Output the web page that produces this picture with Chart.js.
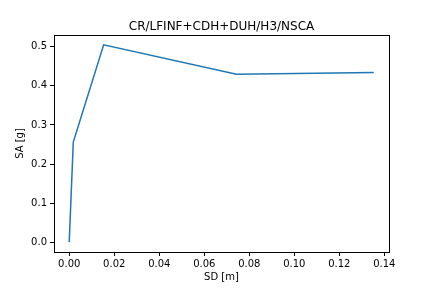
<!DOCTYPE html>
<html>
<head>
<meta charset="utf-8">
<script src="https://cdn.jsdelivr.net/npm/chart.js@4/dist/chart.umd.min.js"></script>
<style>
  html, body { margin: 0; padding: 0; background: #fff; }
  #grafico { display: block; }
</style>
</head>
<body>
<canvas id="grafico" width="432" height="288"></canvas>
<script>
const sd = [0, 0.0018, 0.0153, 0.0743, 0.1353];
const sa = [0, 0.256, 0.505, 0.430, 0.434];
const xTicks = [0, 0.02, 0.04, 0.06, 0.08, 0.1, 0.12, 0.14];
const yTicks = [0, 0.1, 0.2, 0.3, 0.4, 0.5];

const fonte = { family: "DejaVu Sans", size: 10 };

// matplotlib style 5% margins
const xSpan = Math.max(...sd) - Math.min(...sd);
const ySpan = Math.max(...sa) - Math.min(...sa);

const moldura = {
  id: "moldura",
  afterDraw(chart) {
    const { ctx, chartArea: a } = chart;
    ctx.save();
    ctx.strokeStyle = "#000";
    ctx.lineWidth = 1;
    ctx.strokeRect(Math.round(a.left) + 0.5, Math.round(a.top) + 0.5,
      Math.round(a.right - a.left), Math.round(a.bottom - a.top));
    ctx.restore();
  },
};

new Chart(document.getElementById("grafico"), {
  type: "scatter",
  data: {
    datasets: [
      {
        label: "SA",
        data: sd.map((x, i) => ({ x: x, y: sa[i] })),
        showLine: true,
        borderWidth: 1.5,
        borderColor: "#1f77b4",
        backgroundColor: "#1f77b4",
        pointRadius: 0,
        tension: 0,
      },
    ],
  },
  plugins: [moldura],
  options: {
    responsive: false,
    animation: false,
    devicePixelRatio: 1,
    layout: { padding: { left: 0, right: 43, top: 0, bottom: 0 } },
    plugins: {
      legend: { display: false },
      tooltip: { enabled: false },
      title: {
        display: true,
        fullSize: false,
        text: "CR/LFINF+CDH+DUH/H3/NSCA",
        color: "#000",
        font: { family: "DejaVu Sans", size: 12, weight: "normal" },
        padding: { top: 20, bottom: 0.6 },
      },
    },
    scales: {
      x: {
        type: "linear",
        min: Math.min(...sd) - 0.05 * xSpan,
        max: Math.max(...sd) + 0.05 * xSpan,
        afterFit(scale) { scale.height = 36; },
        afterBuildTicks(scale) { scale.ticks = xTicks.map(v => ({ value: v })); },
        ticks: {
          color: "#000",
          font: fonte,
          padding: 2,
          maxRotation: 0,
          autoSkip: false,
          callback: v => Number(v).toFixed(2),
        },
        grid: { display: true, drawOnChartArea: false, drawTicks: true, tickLength: 4, color: "#000" },
        border: { display: true, color: "#000", width: 1 },
        title: { display: true, text: "SD [m]", color: "#000", font: fonte, padding: { top: 0, bottom: 5 } },
      },
      y: {
        type: "linear",
        min: Math.min(...sa) - 0.05 * ySpan,
        max: Math.max(...sa) + 0.05 * ySpan,
        afterFit(scale) { scale.width = 54; },
        afterBuildTicks(scale) { scale.ticks = yTicks.map(v => ({ value: v })); },
        ticks: {
          color: "#000",
          font: fonte,
          padding: 3,
          autoSkip: false,
          callback: v => Number(v).toFixed(1),
        },
        grid: { display: true, drawOnChartArea: false, drawTicks: true, tickLength: 4, color: "#000" },
        border: { display: true, color: "#000", width: 1 },
        title: { display: true, text: "SA [g]", color: "#000", font: fonte, padding: { top: 14, bottom: 0 } },
      },
    },
  },
});
</script>
</body>
</html>
